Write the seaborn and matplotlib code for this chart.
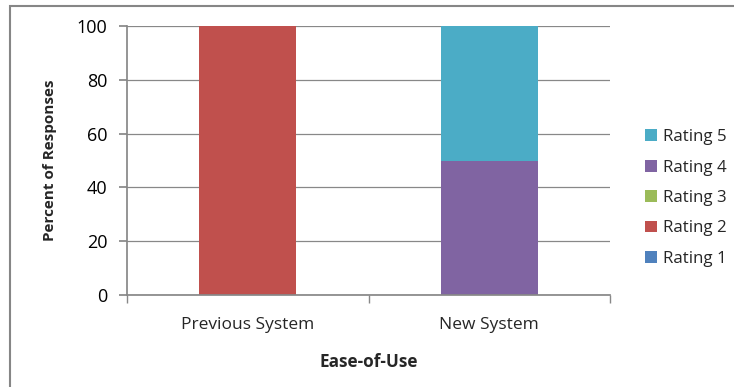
import matplotlib
matplotlib.use("Agg")
import matplotlib.pyplot as plt
import seaborn as sns
import numpy as np
import pandas as pd
from matplotlib.patches import Rectangle

categories = ["Previous System", "New System"]
ratings = ["Rating 1", "Rating 2", "Rating 3", "Rating 4", "Rating 5"]
rating1 = [0, 0]
rating2 = [100, 0]
rating3 = [0, 0]
rating4 = [0, 50]
rating5 = [0, 50]
colors = ["#4F81BD", "#C0504D", "#9BBB59", "#8064A2", "#4BACC6"]
y_ticks = [0, 20, 40, 60, 80, 100]

sns.set_theme(style="white")
plt.rcParams["font.family"] = ["Open Sans", "DejaVu Sans"]

fig = plt.figure(figsize=(7.34, 3.87), dpi=100)
ax = fig.add_axes([127/734, 1 - 295/387, (610 - 127)/734, (295 - 26)/387])

# outer chart border (extends beyond right/bottom edges)
fig.patches.append(Rectangle((10/734, -0.1), 1.0, (1 - 6/387) + 0.1,
                             transform=fig.transFigure, fill=False,
                             edgecolor="#868686", linewidth=1.5))

series = [rating1, rating2, rating3, rating4, rating5]
bottom = np.zeros(len(categories))
for name, vals, col in zip(ratings, series, colors):
    df = pd.DataFrame({"System": categories, "Percent": vals})
    sns.barplot(data=df, x="System", y="Percent", color=col, width=0.4,
                bottom=bottom, ax=ax, label=name, saturation=1, linewidth=0,
                legend=False)
    bottom = bottom + np.array(vals)

handles, labels = ax.get_legend_handles_labels()
if ax.get_legend() is not None:
    ax.get_legend().remove()

ax.set_xlim(-0.5, 1.5)
ax.set_ylim(0, 100)
ax.set_yticks(y_ticks)
ax.set_yticklabels([str(t) for t in y_ticks], fontsize=13, color="#000000")
ax.yaxis.grid(True, color="#888888", linewidth=0.9)
ax.set_axisbelow(True)
for s in ["top", "right"]:
    ax.spines[s].set_visible(False)
ax.spines["left"].set_color("#888888")
ax.spines["bottom"].set_color("#888888")
ax.tick_params(axis="y", which="both", left=True, length=6, color="#888888", pad=8)
ax.set_xticks([0, 1])
ax.set_xticklabels(categories, fontsize=12.5)
ax.tick_params(axis="x", length=0, pad=16)
ax.set_xticks([-0.5, 0.5, 1.5], minor=True)
ax.tick_params(axis="x", which="minor", bottom=True, length=6, color="#888888")
ax.set_xlabel("Ease-of-Use", fontsize=12.3, fontweight="bold", labelpad=14)
ax.set_ylabel("Percent of Responses", fontsize=11, fontweight="bold", labelpad=14)

leg = fig.legend(handles[::-1], labels[::-1], loc="center left",
                 bbox_to_anchor=(638/734, 1 - 198/387), frameon=False,
                 fontsize=12.2, handlelength=0.7, handleheight=0.7,
                 handletextpad=0.4, labelspacing=0.85, borderaxespad=0)

fig.savefig("out.png", dpi=100)
